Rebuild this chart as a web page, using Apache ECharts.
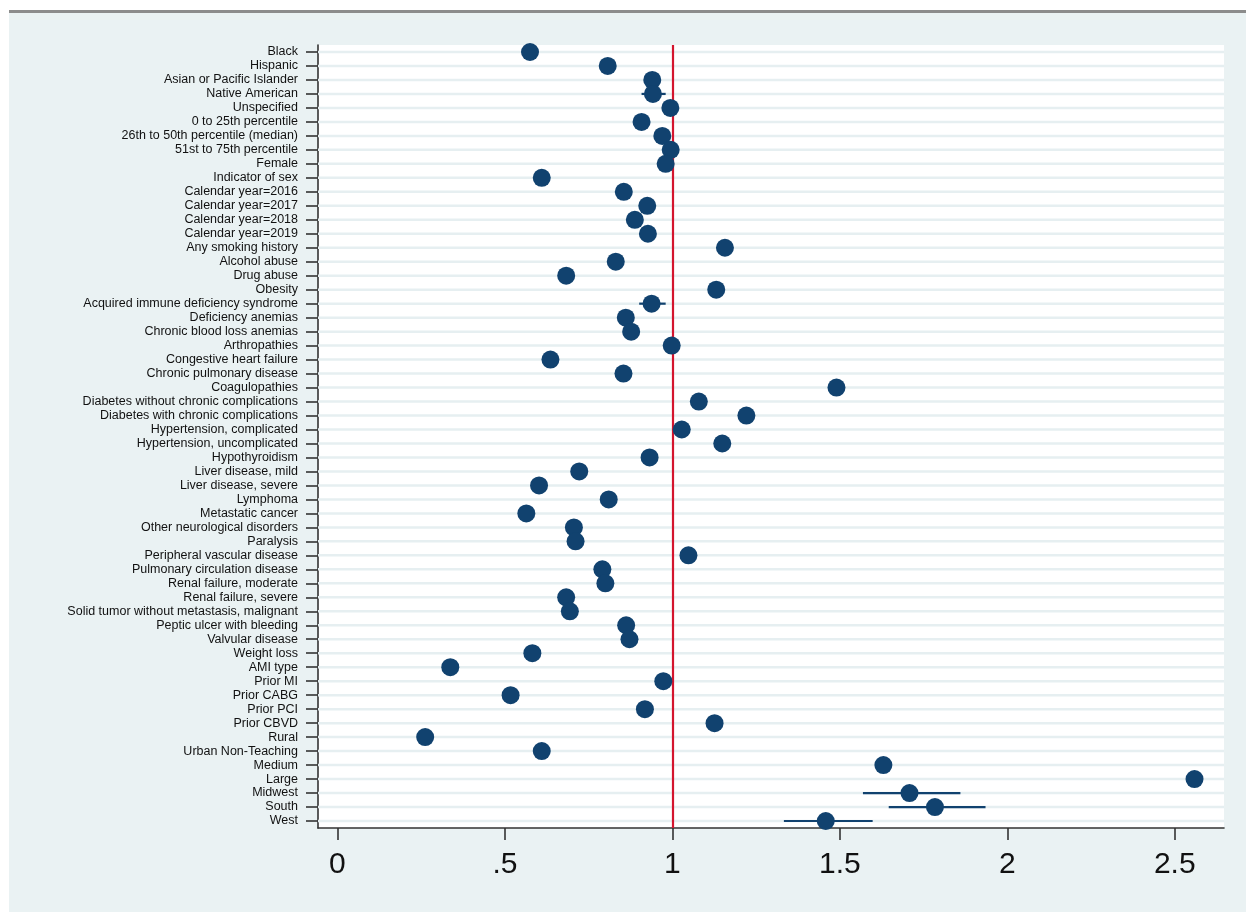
<!DOCTYPE html>
<html>
<head>
<meta charset="utf-8">
<script src="https://cdn.jsdelivr.net/npm/echarts@6/dist/echarts.min.js"></script>
<style>
  html, body { margin: 0; padding: 0; background: #ffffff; width: 1246px; height: 912px; overflow: hidden; }
  #topline { position: absolute; left: 9px; top: 10px; width: 1237px; height: 3px; background: #8c8c8c; }
  #chart { position: absolute; left: 9px; top: 13px; width: 1237px; height: 899px; }
</style>
</head>
<body>
<div id="topline"></div>
<div id="chart"></div>
<script>
const categories = [
  "Black", "Hispanic", "Asian or Pacific Islander", "Native American", "Unspecified",
  "0 to 25th percentile", "26th to 50th percentile (median)", "51st to 75th percentile",
  "Female", "Indicator of sex", "Calendar year=2016", "Calendar year=2017",
  "Calendar year=2018", "Calendar year=2019", "Any smoking history", "Alcohol abuse",
  "Drug abuse", "Obesity", "Acquired immune deficiency syndrome", "Deficiency anemias",
  "Chronic blood loss anemias", "Arthropathies", "Congestive heart failure",
  "Chronic pulmonary disease", "Coagulopathies", "Diabetes without chronic complications",
  "Diabetes with chronic complications", "Hypertension, complicated",
  "Hypertension, uncomplicated", "Hypothyroidism", "Liver disease, mild",
  "Liver disease, severe", "Lymphoma", "Metastatic cancer", "Other neurological disorders",
  "Paralysis", "Peripheral vascular disease", "Pulmonary circulation disease",
  "Renal failure, moderate", "Renal failure, severe", "Solid tumor without metastasis, malignant",
  "Peptic ulcer with bleeding", "Valvular disease", "Weight loss", "AMI type", "Prior MI",
  "Prior CABG", "Prior PCI", "Prior CBVD", "Rural", "Urban Non-Teaching", "Medium",
  "Large", "Midwest", "South", "West"
];

const estimates = [
  0.575, 0.807, 0.940, 0.942, 0.994,
  0.908, 0.970, 0.995,
  0.980, 0.610, 0.855, 0.925,
  0.888, 0.927, 1.157, 0.831,
  0.683, 1.131, 0.938, 0.861,
  0.877, 0.998, 0.636,
  0.854, 1.490, 1.079,
  1.221, 1.028,
  1.149, 0.932, 0.722,
  0.602, 0.810, 0.564, 0.706,
  0.711, 1.048, 0.791,
  0.800, 0.683, 0.694,
  0.862, 0.872, 0.582, 0.337, 0.973,
  0.517, 0.918, 1.126, 0.262, 0.610, 1.630,
  2.559, 1.708, 1.784, 1.458
];

// Confidence limits visible beyond the markers (null = hidden behind the marker)
const ciLower = [
  null, null, null, 0.908, null, null, null, null, null, null, null, null, null, null,
  null, null, null, null, 0.901, null, null, null, null, null, null, null, null, null,
  null, null, null, null, null, null, null, null, null, null, null, null, null, null,
  null, null, null, null, null, null, null, null, null, null, null, 1.569, 1.646, 1.333
];
const ciUpper = [
  null, null, null, 0.980, null, null, null, null, null, null, null, null, null, null,
  null, null, null, null, 0.980, null, null, null, null, null, null, null, null, null,
  null, null, null, null, null, null, null, null, null, null, null, null, null, null,
  null, null, null, null, null, null, null, null, null, null, null, 1.860, 1.935, 1.598
];

const xTickValues = [0, 0.5, 1, 1.5, 2, 2.5];
const xTickLabels = ["0", ".5", "1", "1.5", "2", "2.5"];
const referenceValue = 1;

const navy = "#11426f";
const axisColor = "#333333";
const gridColor = "#e6eff1";

const chart = echarts.init(document.getElementById("chart"), null, { renderer: "canvas" });

const gridLineData = categories.map((c, i) => [0, i]);
const ciData = [];
ciLower.forEach((lo, i) => {
  if (lo !== null && ciUpper[i] !== null) ciData.push([lo, ciUpper[i], i]);
});
const pointData = estimates.map((v, i) => [v, i]);

const option = {
  backgroundColor: "#eaf2f3",
  animation: false,
  grid: {
    left: 309, top: 32, width: 906, height: 783,
    show: true, backgroundColor: "#ffffff", borderWidth: 0,
    containLabel: false
  },
  xAxis: {
    type: "value",
    min: -0.058, max: 2.647,
    axisLine: { show: true, onZero: false, lineStyle: { color: axisColor, width: 1.6 } },
    axisTick: { show: true, customValues: xTickValues, length: 12, lineStyle: { color: axisColor, width: 1.6 } },
    axisLabel: {
      show: true, customValues: xTickValues, margin: 22,
      fontFamily: "Liberation Sans, Arial, sans-serif", fontSize: 30, color: "#111",
      formatter: function (v) {
        const k = xTickValues.findIndex(t => Math.abs(t - v) < 1e-9);
        return k >= 0 ? xTickLabels[k] : "";
      }
    },
    splitLine: { show: false }
  },
  yAxis: {
    type: "category",
    data: categories,
    inverse: true,
    boundaryGap: true,
    axisLine: { show: true, onZero: false, lineStyle: { color: axisColor, width: 1.6 } },
    axisTick: { show: true, alignWithLabel: true, interval: 0, length: 12, lineStyle: { color: axisColor, width: 1.6 } },
    axisLabel: {
      interval: 0, margin: 20, padding: [3, 0, 0, 0],
      fontFamily: "Liberation Sans, Arial, sans-serif", fontSize: 12.5, color: "#111"
    },
    splitLine: { show: false }
  },
  series: [
    {
      type: "custom",
      name: "grid",
      silent: true,
      z: 1,
      data: gridLineData,
      renderItem: function (params, api) {
        const cs = params.coordSys;
        const y = api.coord([0, api.value(1)])[1];
        return {
          type: "line",
          shape: { x1: cs.x, y1: y, x2: cs.x + cs.width, y2: y },
          style: { stroke: gridColor, lineWidth: 2.5 }
        };
      }
    },
    {
      type: "custom",
      name: "ci",
      silent: true,
      z: 3,
      data: ciData,
      encode: { x: [0, 1], y: 2 },
      renderItem: function (params, api) {
        const a = api.coord([api.value(0), api.value(2)]);
        const b = api.coord([api.value(1), api.value(2)]);
        return {
          type: "line",
          shape: { x1: a[0], y1: a[1], x2: b[0], y2: b[1] },
          style: { stroke: navy, lineWidth: 2.2 }
        };
      }
    },
    {
      type: "scatter",
      name: "estimate",
      z: 4,
      symbol: "circle",
      symbolSize: 18,
      itemStyle: { color: navy, opacity: 1 },
      data: pointData,
      markLine: {
        silent: true,
        symbol: "none",
        z: 2,
        label: { show: false },
        lineStyle: { color: "#d4152e", width: 2.2, type: "solid" },
        data: [{ xAxis: referenceValue }]
      }
    }
  ]
};

chart.setOption(option);
</script>
</body>
</html>
